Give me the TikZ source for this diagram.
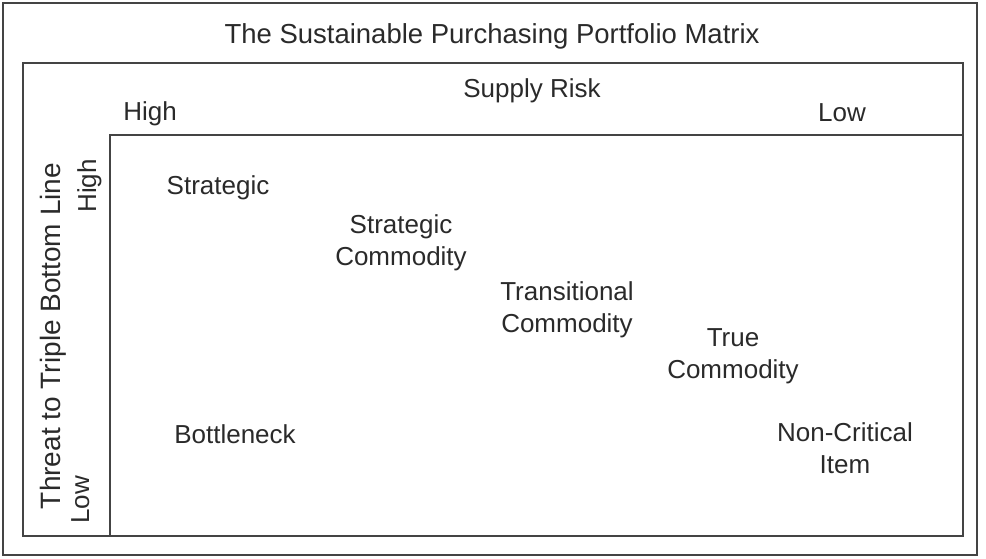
\documentclass[tikz,border=0pt]{standalone}
\usepackage{fontspec}
\setmainfont{Liberation Sans}
\definecolor{linegray}{HTML}{444444}
\definecolor{textgray}{HTML}{2A2A2A}
\tikzset{
  frame/.style={draw=linegray, line width=1.6pt},
  lbl/.style={font=\fontsize{26}{32}\selectfont, text=textgray, inner sep=0pt, anchor=base, align=center},
  ttl/.style={font=\fontsize{27.5}{32}\selectfont, text=textgray, inner sep=0pt, anchor=base},
  vlbl/.style={lbl, rotate=90}
}
\begin{document}
\begin{tikzpicture}[x=1pt,y=-1pt]
\useasboundingbox (0,0) rectangle (986,558);
\draw[frame] (3,3) rectangle (977,555);
\draw[frame] (23,63) rectangle (963,536);
\draw[frame] (110,536) -- (110,135) -- (963,135);
\node[ttl] (title) at (492,43) {The Sustainable Purchasing Portfolio Matrix};
\node[lbl] (supply) at (532,97) {Supply Risk};
\node[lbl] (highs) at (150,120) {High};
\node[lbl] (lows) at (842,121) {Low};
\node[vlbl, font=\fontsize{28}{32}\selectfont] (threat) at (60,336) {Threat to Triple Bottom Line};
\node[vlbl] (hight) at (96,186) {High};
\node[vlbl] (lowt) at (89,500) {Low};
\node[lbl] (strategic) at (218,194) {Strategic};
\node[lbl] (stratcom) at (401,265) {Strategic\\Commodity};
\node[lbl] (trans) at (567,332) {Transitional\\Commodity};
\node[lbl] (truecom) at (733,378) {True\\Commodity};
\node[lbl] (bottleneck) at (235,443) {Bottleneck};
\node[lbl] (noncrit) at (845,473) {Non-Critical\\Item};
\end{tikzpicture}
\end{document}
